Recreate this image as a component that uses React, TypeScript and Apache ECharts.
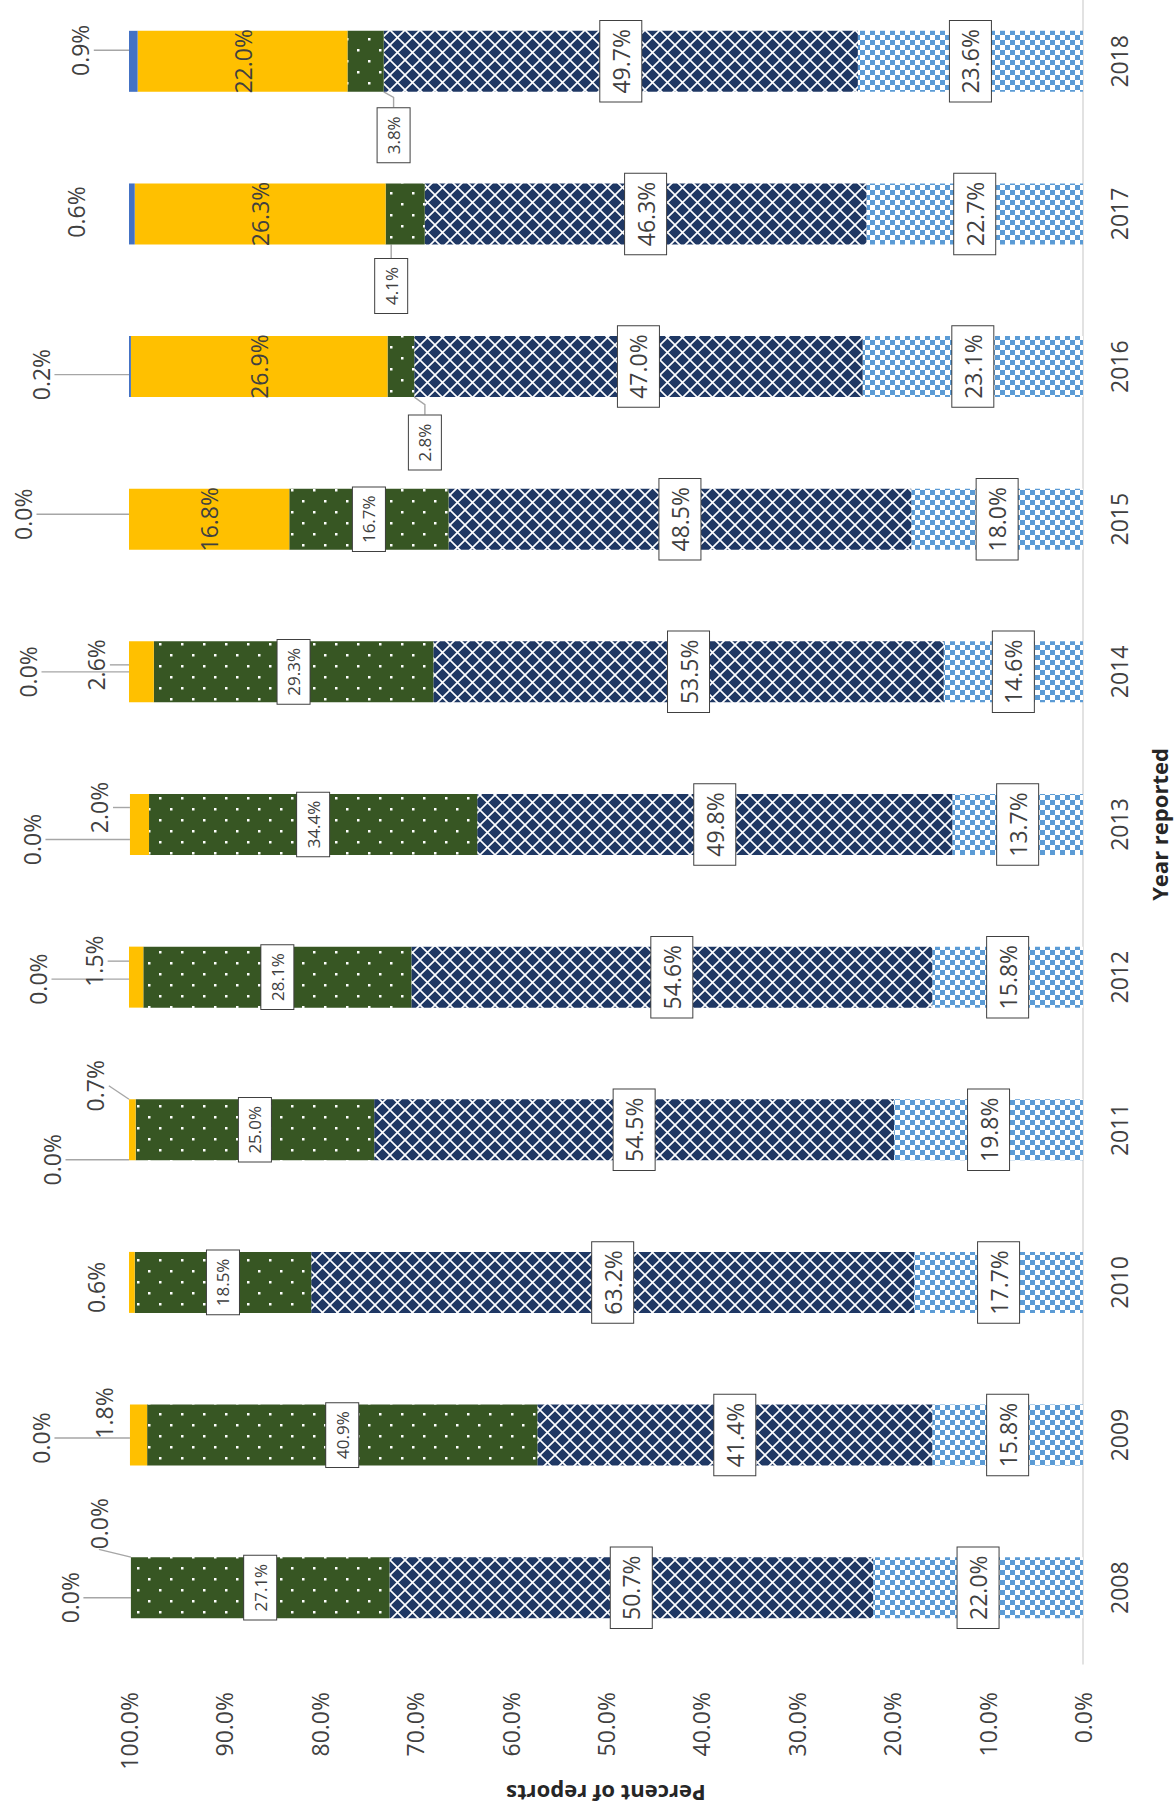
import React, { useEffect, useRef } from "react";
import * as echarts from "echarts";

// ---------- data ----------
const years = ["2008", "2009", "2010", "2011", "2012", "2013", "2014", "2015", "2016", "2017", "2018"];
const lightBlueValues = [22.0, 15.8, 17.7, 19.8, 15.8, 13.7, 14.6, 18.0, 23.1, 22.7, 23.6];
const navyValues = [50.7, 41.4, 63.2, 54.5, 54.6, 49.8, 53.5, 48.5, 47.0, 46.3, 49.7];
const greenValues = [27.1, 40.9, 18.5, 25.0, 28.1, 34.4, 29.3, 16.7, 2.8, 4.1, 3.8];
const yellowValues = [0.0, 1.8, 0.6, 0.7, 1.5, 2.0, 2.6, 16.8, 26.9, 26.3, 22.0];
const blueValues = [0.0, 0.0, null, 0.0, 0.0, 0.0, 0.0, 0.0, 0.2, 0.6, 0.9];
const percentTickLabels = ["0.0%", "10.0%", "20.0%", "30.0%", "40.0%", "50.0%", "60.0%", "70.0%", "80.0%", "90.0%", "100.0%"];
const xAxisTitle = "Percent of reports";
const yAxisTitle = "Year reported";

// ---------- label placement (styling: screen pixel offsets [right, down] from segment centre) ----------
const blueLabelShift = [[-61, 10], [-89, 3], null, [-77, 30], [-91, 2], [-98, 15], [-101, 0], [-106, -5], [-89, 8], [-56, -2], [-53, -11]];
const blueLeader = [true, true, false, true, true, true, true, true, true, false, true];
const yellowLabelShift = [[-32, -64], [-35, -22], [-36, 5], [-37, -44], [-42, -16], [-40, -17], [-45, -7], null, null, null, null];
const yellowLeader = [true, false, false, true, true, true, true, false, false, false, false];
const greenLabelShift = [null, null, null, null, null, null, null, null, [24, 76], [-14, 72], [28, 74]];
const greenLeader = [false, false, false, false, false, false, false, false, true, true, true];
const noShift = years.map(() => null);
const noLeader = years.map(() => false);

const FONT = "'Open Sans', 'Noto Sans', sans-serif";
const TEXT = "#404040";

function makePattern(w: number, h: number, draw: (ctx: CanvasRenderingContext2D) => void) {
  const c = document.createElement("canvas");
  c.width = w;
  c.height = h;
  const ctx = c.getContext("2d") as CanvasRenderingContext2D;
  draw(ctx);
  return { image: c, repeat: "repeat" };
}

const fmt = (p: any) => Number(p.value).toFixed(1) + "%";

const bigBox = {
  fontSize: 23,
  lineHeight: 27,
  color: TEXT,
  fontFamily: FONT,
  backgroundColor: "#ffffff",
  borderColor: "#404040",
  borderWidth: 1,
  padding: [7, 8],
};
const smallBox = {
  fontSize: 17,
  lineHeight: 20,
  color: TEXT,
  fontFamily: FONT,
  backgroundColor: "#ffffff",
  borderColor: "#404040",
  borderWidth: 1,
  padding: [6, 8],
};
const plainText = {
  fontSize: 23,
  lineHeight: 27,
  color: TEXT,
  fontFamily: FONT,
};

function barSeries(
  name: string,
  values: (number | null)[],
  color: any,
  labelCfg: any,
  shift: (number[] | null)[],
  leader: boolean[],
  length2: number
) {
  return {
    type: "bar",
    name,
    stack: "total",
    barWidth: 61,
    data: values.map((v, i) => (v == null ? "-" : { value: v, labelLine: { show: leader[i] } })),
    itemStyle: { color },
    label: {
      show: true,
      position: "inside",
      rotate: 90,
      formatter: fmt,
      textBorderWidth: 0,
      ...labelCfg,
    },
    // label is rotated 90deg, so its local offsets map to screen as (dy -> right, -dx -> down)
    labelLayout: (p: any) => {
      const s = shift[p.dataIndex];
      return s ? { dx: -s[1], dy: s[0] } : {};
    },
    labelLine: {
      show: true,
      length2,
      lineStyle: { color: "#a6a6a6", width: 1.4 },
    },
  };
}

export default function App() {
  const ref = useRef<HTMLDivElement>(null);

  useEffect(() => {
    if (!ref.current) return;
    const chart = echarts.init(ref.current, null, { renderer: "svg" });

    const lightBluePattern = makePattern(10, 10, (ctx) => {
      ctx.fillStyle = "#ffffff";
      ctx.fillRect(0, 0, 10, 10);
      ctx.fillStyle = "#5b9bd5";
      ctx.fillRect(0, 0, 5, 5);
      ctx.fillRect(5, 5, 5, 5);
    });
    const navyPattern = makePattern(15, 15, (ctx) => {
      ctx.fillStyle = "#1f3864";
      ctx.fillRect(0, 0, 15, 15);
      ctx.strokeStyle = "#ffffff";
      ctx.lineWidth = 1.6;
      ctx.beginPath();
      ctx.moveTo(-1, -1);
      ctx.lineTo(16, 16);
      ctx.moveTo(16, -1);
      ctx.lineTo(-1, 16);
      ctx.stroke();
    });
    const greenPattern = makePattern(22, 22, (ctx) => {
      ctx.fillStyle = "#375623";
      ctx.fillRect(0, 0, 22, 22);
      ctx.fillStyle = "#ffffff";
      ctx.fillRect(5, 5, 2.5, 2.5);
      ctx.fillRect(16, 16, 2.5, 2.5);
    });

    const option: any = {
      animation: false,
      backgroundColor: "#ffffff",
      textStyle: { fontFamily: FONT },
      grid: {
        left: 129,
        right: 92,
        top: -15,
        height: 1679,
        containLabel: false,
        outerBoundsMode: "none",
      },
      xAxis: {
        type: "value",
        inverse: true,
        min: 0,
        max: 100,
        interval: 10,
        position: "bottom",
        axisLine: { show: false },
        axisTick: { show: false },
        splitLine: { show: false },
        axisLabel: {
          rotate: 90,
          margin: 28,
          fontSize: 23,
          color: TEXT,
          fontFamily: FONT,
          formatter: (v: number) => percentTickLabels[Math.round(v / 10)],
        },
        name: xAxisTitle,
        nameLocation: "middle",
        nameRotate: 180,
        nameGap: 119,
        nameTextStyle: { fontSize: 22, fontWeight: "bold", color: "#262626", fontFamily: FONT },
      },
      yAxis: {
        type: "category",
        data: years,
        position: "right",
        axisLine: { show: true, lineStyle: { color: "#d9d9d9", width: 1.5 } },
        axisTick: { show: false },
        splitLine: { show: false },
        axisLabel: {
          rotate: 90,
          margin: 24,
          fontSize: 23,
          color: TEXT,
          fontFamily: FONT,
        },
        name: yAxisTitle,
        nameLocation: "middle",
        nameRotate: 90,
        nameGap: 65,
        nameTextStyle: { fontSize: 22, fontWeight: "bold", color: "#262626", fontFamily: FONT },
      },
      series: [
        barSeries("Series 1", lightBlueValues, lightBluePattern, bigBox, noShift, noLeader, 0),
        barSeries("Series 2", navyValues, navyPattern, bigBox, noShift, noLeader, 0),
        barSeries("Series 3", greenValues, greenPattern, smallBox, greenLabelShift, greenLeader, 10),
        barSeries("Series 4", yellowValues, "#ffc000", plainText, yellowLabelShift, yellowLeader, 0),
        barSeries("Series 5", blueValues, "#4472c4", plainText, blueLabelShift, blueLeader, 0),
      ],
    };

    chart.setOption(option);
    return () => chart.dispose();
  }, []);

  return (
    <div
      ref={ref}
      style={{ position: "absolute", left: 0, top: 0, width: 1175, height: 1807, background: "#fff" }}
    />
  );
}
